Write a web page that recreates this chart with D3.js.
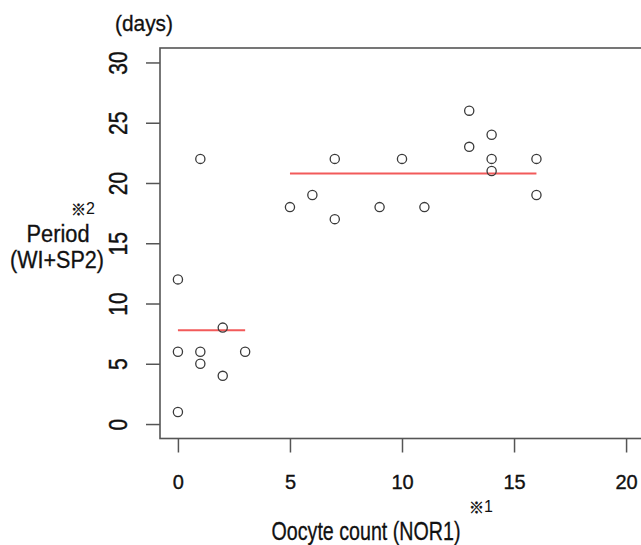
<!DOCTYPE html>
<html><head><meta charset="utf-8">
<script src="https://cdn.jsdelivr.net/npm/d3@7"></script>
<style>
body{margin:0;background:#fff;}
svg{display:block;}
</style>
</head><body>
<svg id="c" width="641" height="545"></svg>
<script>
// Data
const oocyteCount = [0,0,0,1,1,1,2,2,3, 5,6,7,7,9,10,11,13,13,14,14,14,16,16];
const periodDays  = [12,6,1,22,6,5,8,4,6, 18,19,22,17,18,22,18,26,23,24,22,21,22,19];
const groupIds    = [1,1,1,1,1,1,1,1,1, 2,2,2,2,2,2,2,2,2,2,2,2,2,2];
const groupNames  = [1,2];
const xTicks = [0,5,10,15,20];
const yTicks = [0,5,10,15,20,25,30];

const svg = d3.select("#c");
const x = d3.scaleLinear().domain([-0.8,20.8]).range([160,644]);
const y = d3.scaleLinear().domain([-1.2,31.2]).range([438.5,48]);
const axisCol = "#555";
const sans = "'Liberation Sans', Arial, sans-serif";
const narrow = "'Liberation Sans Narrow', 'Liberation Sans', sans-serif";
const jp = "'Noto Sans CJK JP', sans-serif";

// box
svg.append("rect").attr("x",x.range()[0]).attr("y",y.range()[1])
  .attr("width",x.range()[1]-x.range()[0]).attr("height",y.range()[0]-y.range()[1])
  .attr("fill","none").attr("stroke",axisCol).attr("stroke-width",1.6);

// x axis
const xa = svg.append("g").attr("transform",`translate(0,${y.range()[0]})`)
  .call(d3.axisBottom(x).tickValues(xTicks).tickSize(14).tickPadding(22).tickSizeOuter(0));
xa.select(".domain").remove();
xa.selectAll("line").attr("stroke",axisCol).attr("stroke-width",1.5);
xa.selectAll("text").attr("font-family",sans).attr("font-size",20).attr("fill","#111")
  .attr("stroke","#111").attr("stroke-width",0.35);

// y axis
const ya = svg.append("g").attr("transform",`translate(${x.range()[0]},0)`)
  .call(d3.axisLeft(y).tickValues(yTicks).tickSize(14).tickPadding(0).tickSizeOuter(0));
ya.select(".domain").remove();
ya.selectAll("line").attr("stroke",axisCol).attr("stroke-width",1.5);
ya.selectAll("text").attr("font-family",sans).attr("font-size",21).attr("fill","#111")
  .attr("stroke","#111").attr("stroke-width",0.35)
  .attr("text-anchor","middle").attr("x",0).attr("dy",0).attr("y",0)
  .attr("transform","translate(-41.5,0) rotate(-90) scale(1,1.2)")
  .attr("dominant-baseline","central");

// mean lines
groupNames.forEach(g=>{
  const idx = d3.range(oocyteCount.length).filter(i=>groupIds[i]===g);
  const xs = idx.map(i=>oocyteCount[i]);
  const m = d3.mean(idx.map(i=>periodDays[i]));
  svg.append("line").attr("x1",x(d3.min(xs))).attr("x2",x(d3.max(xs)))
    .attr("y1",y(m)).attr("y2",y(m)).attr("stroke","#f25a5a").attr("stroke-width",2);
});

// points
svg.append("g").selectAll("circle").data(d3.range(oocyteCount.length)).join("circle")
  .attr("cx",i=>x(oocyteCount[i])).attr("cy",i=>y(periodDays[i])).attr("r",4.6)
  .attr("fill","none").attr("stroke","#3a3a3a").attr("stroke-width",1.3);

// titles
function t(txt,cx,cy,size,len){
  const e = svg.append("text").attr("x",cx).attr("y",cy).attr("text-anchor","middle")
    .attr("dominant-baseline","central").attr("font-family",narrow).attr("font-size",size)
    .attr("fill","#111").attr("stroke","#111").attr("stroke-width",0.3).text(txt);
  if(len) e.attr("textLength",len).attr("lengthAdjust","spacingAndGlyphs");
  return e;
}
function note(num,lx,cy){
  const e = svg.append("text").attr("x",lx).attr("y",cy).attr("dominant-baseline","central")
    .attr("fill","#111");
  e.append("tspan").attr("font-family",jp).attr("font-size",15).attr("font-weight","bold")
    .attr("stroke","#111").attr("stroke-width",0.4).text("※");
  e.append("tspan").attr("font-family",narrow).attr("font-size",16).text(num);
}
t("(days)",144,23,22,58);
note("2",71,208);
t("Period",58,234,23,63);
t("(WI+SP2)",57,260,23,94);
t("Oocyte count (NOR1)",366,531,25,189);
note("1",469,506);
</script>
</body></html>
